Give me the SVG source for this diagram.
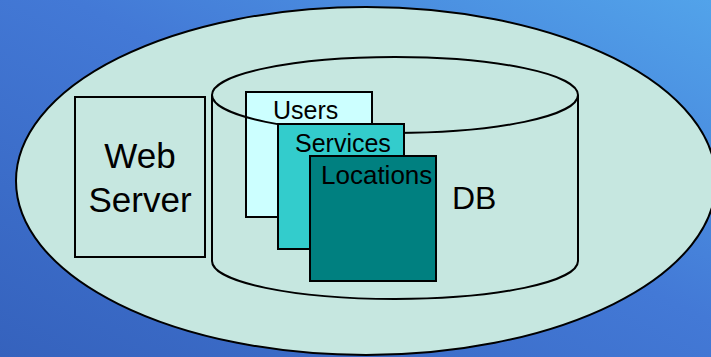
<svg xmlns="http://www.w3.org/2000/svg" width="711" height="357" viewBox="0 0 711 357">
<defs>
<linearGradient id="bg" x1="0" y1="1" x2="1" y2="0">
<stop offset="0" stop-color="#3562BD"/>
<stop offset="0.55" stop-color="#4379D6"/>
<stop offset="1" stop-color="#52A3EA"/>
</linearGradient>
</defs>
<style>
.ln{stroke:#000;stroke-width:2}
.pale{fill:#C6E7E0}
.t{font-family:"Liberation Sans",Arial,sans-serif;fill:#000}
</style>
<rect x="0" y="0" width="711" height="357" fill="url(#bg)"/>
<g id="system">
<ellipse class="ln pale" cx="366" cy="181" rx="350" ry="174"/>
</g>
<g id="web-server">
<rect class="ln pale" x="75" y="97" width="130" height="160"/>
<text class="t" x="140" y="168" font-size="35" text-anchor="middle">Web</text>
<text class="t" x="140" y="212" font-size="35" text-anchor="middle">Server</text>
</g>
<g id="db">
<path class="ln" fill="none" d="M212,95 L212,261 A183,38 0 0 0 578,261 L578,95"/>
<text class="t" x="452" y="209" font-size="32">DB</text>
</g>
<g id="users">
<rect class="ln" x="246" y="92" width="126" height="125" fill="#CCFFFF"/>
<text class="t" x="273" y="119" font-size="25">Users</text>
</g>
<g id="db-top">
<ellipse class="ln" cx="395" cy="95" rx="183" ry="38" fill="none"/>
</g>
<g id="services">
<rect class="ln" x="278" y="124" width="126" height="125" fill="#33CCCC"/>
<text class="t" x="295" y="152" font-size="25">Services</text>
</g>
<g id="locations">
<rect class="ln" x="310" y="156" width="126" height="125" fill="#008080"/>
<text class="t" x="321" y="184" font-size="26">Locations</text>
</g>
</svg>
